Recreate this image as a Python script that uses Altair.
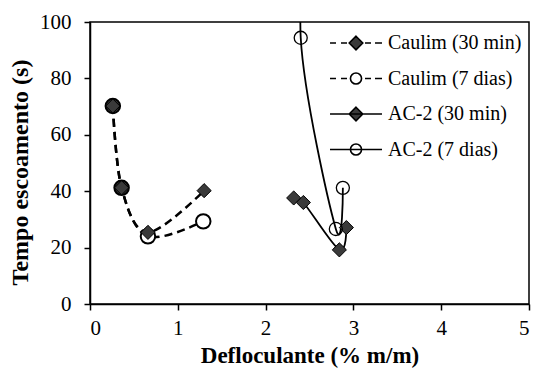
import altair as alt
import pandas as pd

series = ["Caulim (30 min)", "Caulim (7 dias)", "AC-2 (30 min)", "AC-2 (7 dias)"]

caulim30_x = [0.26, 0.36, 0.66, 1.30]
caulim30_y = [70.2, 41.2, 25.4, 40.2]
caulim7_x = [0.26, 0.36, 0.66, 1.29]
caulim7_y = [70.2, 41.2, 24.0, 29.3]
ac30_x = [2.32, 2.43, 2.84, 2.92]
ac30_y = [37.6, 36.0, 19.2, 27.1]
ac7_x = [2.58, 2.40, 2.80, 2.88]
ac7_y = [150.0, 94.4, 26.6, 41.2]

x_ticks = [0, 1, 2, 3, 4, 5]
y_ticks = [0, 20, 40, 60, 80, 100]

rows = []
for name, xs, ys in zip(series, [caulim30_x, caulim7_x, ac30_x, ac7_x],
                        [caulim30_y, caulim7_y, ac30_y, ac7_y]):
    for i, (a, b) in enumerate(zip(xs, ys)):
        rows.append({"s": name, "x": a, "y": b, "i": i})
df = pd.DataFrame(rows)

FONT = "Liberation Serif"

X = alt.X("x:Q", scale=alt.Scale(domain=[0, 5], nice=False),
          axis=alt.Axis(values=x_ticks, title="Defloculante (% m/m)", format="d",
                        titleFontSize=23))
Y = alt.Y("y:Q", scale=alt.Scale(domain=[0, 100], nice=False),
          axis=alt.Axis(values=y_ticks, title="Tempo escoamento (s)", format="d",
                        titleFontSize=24, titleX=-70, titleY=150,
                        titleBaseline="middle"))
O = alt.Order("i:Q")

base = alt.Chart(df)

def sel(k):
    return base.transform_filter(alt.datum.s == series[k])

dash = [8, 5]
l0 = sel(0).mark_line(interpolate="cardinal", strokeDash=dash, strokeWidth=2.5,
                      color="black", clip=True).encode(X, Y, O)
l1 = sel(1).mark_line(interpolate="cardinal", strokeDash=dash, strokeWidth=2.5,
                      color="black", clip=True).encode(X, Y, O)
l2 = sel(2).mark_line(interpolate="cardinal", strokeWidth=1.8,
                      color="black", clip=True).encode(X, Y, O)
l3 = sel(3).mark_line(interpolate="cardinal", strokeWidth=1.8,
                      color="black", clip=True).encode(X, Y, O)

p1 = sel(1).mark_point(shape="circle", size=210, filled=True, stroke="black",
                       strokeWidth=2, opacity=1, clip=True).encode(
    X, Y, fill=alt.condition(alt.datum.y > 35, alt.value("#333333"), alt.value("white")))
p0 = sel(0).mark_point(shape="diamond", size=200, filled=True, fill="#3a3a3a",
                       stroke="black", strokeWidth=1, opacity=1, clip=True).encode(X, Y)
p2 = sel(2).mark_point(shape="diamond", size=200, filled=True, fill="#3a3a3a",
                       stroke="black", strokeWidth=1, opacity=1, clip=True).encode(X, Y)
p3 = sel(3).mark_point(shape="circle", size=170, filled=False, stroke="black",
                       strokeWidth=1.3, opacity=1, clip=True).encode(X, Y)

diamond = "M0,-0.45 L0.45,0 L0,0.45 L-0.45,0 Z"
circle = "M0.37,0 A0.37,0.37 0 1,1 -0.37,0 A0.37,0.37 0 1,1 0.37,0 Z"
dashes = "M-1.733,0 L-1.333,0 M-1.0,0 L-0.6,0 M0.6,0 L1.0,0 M1.267,0 L1.733,0 "
solid = "M-1.733,0 L1.733,0 "
paths = [dashes + diamond, dashes + circle, solid + diamond, solid + circle]
fills = ["#3a3a3a", "white", "#3a3a3a", "white"]
strokes = ["black", "black", "black", "black"]

leg = alt.Legend(title=None, orient="none", legendX=250, legendY=5,
                 symbolSize=900, labelOffset=16, rowPadding=9.5, padding=0,
                 labelFont=FONT, labelFontSize=20, labelColor="black",
                 symbolStrokeWidth=1.6, labelLimit=300)

legend_layer = base.transform_filter("false").mark_point(
    filled=False, color="black", strokeWidth=1.6, opacity=1).encode(
    X, Y,
    shape=alt.Shape("s:N", scale=alt.Scale(domain=series, range=paths), legend=leg),
    fill=alt.Fill("s:N", scale=alt.Scale(domain=series, range=fills), legend=leg),
    stroke=alt.Stroke("s:N", scale=alt.Scale(domain=series, range=strokes), legend=leg),
)

chart = alt.layer(l0, l1, l2, l3, p1, p0, p2, p3, legend_layer).properties(
    width=439, height=282,
    autosize=alt.AutoSizeParams(type="none"),
    padding={"left": 82, "top": 14, "right": 2, "bottom": 66},
).configure_view(
    stroke="black", strokeWidth=1.5
).configure_axis(
    grid=False, domainColor="black", domainWidth=1.5, tickColor="black",
    tickWidth=1.5, tickSize=6, labelFont=FONT, labelFontSize=21,
    labelColor="black", titleFont=FONT, titleFontSize=22, titleFontWeight="bold",
    titleColor="black"
).configure_axisX(
    labelPadding=7, titlePadding=6
).configure_axisY(
    labelPadding=13, titlePadding=10
)

chart.save("out.html", embed_options={"renderer": "svg", "actions": False})
